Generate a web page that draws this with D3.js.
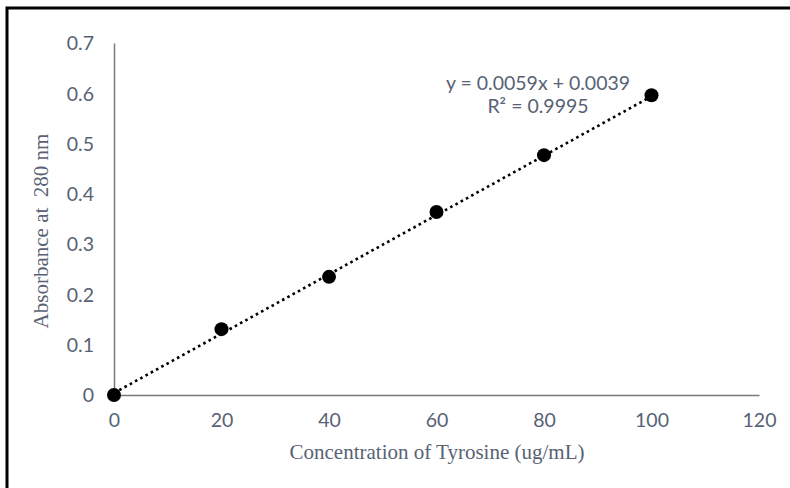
<!DOCTYPE html>
<html>
<head>
<meta charset="utf-8">
<script src="https://cdn.jsdelivr.net/npm/d3@7"></script>
<style>
  body { margin: 0; background: #fff; }
  .tick text { font-family: Lato, "Open Sans", sans-serif; font-size: 19.5px; fill: #586274; }
</style>
</head>
<body>
<script>
const w = 790;
const h = 488;

// data
const concentration = [0, 20, 40, 60, 80, 100];
const absorbance = [0, 0.131, 0.235, 0.364, 0.477, 0.596];
const xTicks = [0, 20, 40, 60, 80, 100, 120];
const yTicks = [0, 0.1, 0.2, 0.3, 0.4, 0.5, 0.6, 0.7];
const slope = 0.0059;
const intercept = 0.0039;
const eqLines = ["y = 0.0059x + 0.0039", "R² = 0.9995"];

const margin = {left: 114, right: 31, top: 43, bottom: 93};
const textCol = "#586274";

let svg = d3.select("body")
    .append("svg")
    .attr("width", w)
    .attr("height", h);

// outer frame (only top and left edges show)
svg.append("path")
    .attr("d", "M7," + h + " L7,8 L" + w + ",8")
    .attr("fill", "none")
    .attr("stroke", "#000")
    .attr("stroke-width", 3);

let x = d3.scaleLinear()
    .domain([0, 120])
    .range([margin.left, w - margin.right]);
let y = d3.scaleLinear()
    .domain([0, 0.7])
    .range([h - margin.bottom, margin.top]);

// x axis
let gx = svg.append("g")
    .attr("transform", "translate(0," + y(0) + ")")
    .call(d3.axisBottom(x).tickValues(xTicks).tickSize(0).tickPadding(18).tickFormat(d3.format("d")));
gx.select(".domain").attr("stroke", "#7a7a7a").attr("stroke-width", 1.5);

// y axis
let gy = svg.append("g")
    .attr("transform", "translate(" + x(0) + ",0)")
    .call(d3.axisLeft(y).tickValues(yTicks).tickSize(0).tickPadding(20)
        .tickFormat(d => d === 0 ? "0" : d3.format(".1f")(d)));
gy.select(".domain").attr("stroke", "#7a7a7a").attr("stroke-width", 1.5);
gy.selectAll(".tick text").attr("dy", "0.35em");

// linear trendline
svg.append("line")
    .attr("x1", x(0))
    .attr("y1", y(intercept))
    .attr("x2", x(100))
    .attr("y2", y(slope * 100 + intercept))
    .attr("stroke", "#000")
    .attr("stroke-width", 2.6)
    .attr("stroke-dasharray", "2.6,3.4");

// points
svg.selectAll("circle.pt")
    .data(concentration)
    .enter()
    .append("circle")
    .attr("class", "pt")
    .attr("cx", d => x(d))
    .attr("cy", (d, i) => y(absorbance[i]))
    .attr("r", 7)
    .attr("fill", "#000");

// equation label
svg.selectAll("text.eq")
    .data(eqLines)
    .enter()
    .append("text")
    .attr("class", "eq")
    .attr("x", 538)
    .attr("y", (d, i) => 90 + i * 23)
    .attr("text-anchor", "middle")
    .style("font-family", "Lato, 'Open Sans', sans-serif")
    .style("font-size", "19.5px")
    .style("fill", textCol)
    .text(d => d);

// axis titles
svg.append("text")
    .attr("x", 437)
    .attr("y", 459)
    .attr("text-anchor", "middle")
    .style("font-family", "'Liberation Serif', 'DejaVu Serif', serif")
    .style("font-size", "21px")
    .style("fill", textCol)
    .text("Concentration of Tyrosine (ug/mL)");

svg.append("text")
    .attr("transform", "translate(48,231) rotate(-90)")
    .attr("text-anchor", "middle")
    .style("font-family", "'Liberation Serif', 'DejaVu Serif', serif")
    .style("font-size", "21px")
    .style("fill", textCol)
    .style("white-space", "pre")
    .text("Absorbance at  280 nm");
</script>
</body>
</html>
